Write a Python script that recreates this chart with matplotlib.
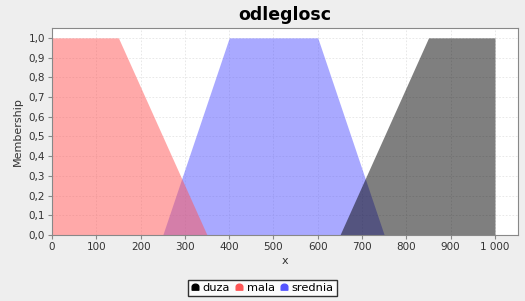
import numpy as np
import matplotlib
matplotlib.use("Agg")
import matplotlib.pyplot as plt
from matplotlib.path import Path
from matplotlib.ticker import FuncFormatter, MultipleLocator

# zbiory rozmyte (trapezy): punkty x i stopnie przynaleznosci
names = ["duza", "mala", "srednia"]
xs = {
    "mala": [0, 0, 150, 350],
    "srednia": [250, 400, 600, 750],
    "duza": [650, 850, 1000, 1000],
}
mu = {
    "mala": [1, 1, 1, 0],
    "srednia": [0, 1, 1, 0],
    "duza": [0, 1, 1, 1],
}
colors = {"duza": "#000000", "mala": "#FF5555", "srednia": "#5555FF"}

plt.rcParams["font.family"] = "DejaVu Sans"
fig = plt.figure(figsize=(5.25, 3.01), dpi=100, facecolor="#EEEEEE")
ax = fig.add_axes([52 / 525, 1 - 235 / 301, 466 / 525, 207 / 301])
ax.set_facecolor("white")

# rysowanie w odwrotnej kolejnosci serii (jak JFreeChart)
for n in names[::-1]:
    ax.fill_between(xs[n], mu[n], 0, color=colors[n], alpha=0.5, lw=0)

ax.set_xlim(0, 1052)
ax.set_ylim(0, 1.05)
ax.xaxis.set_major_locator(MultipleLocator(100))
ax.yaxis.set_major_locator(MultipleLocator(0.1))
ax.xaxis.set_major_formatter(FuncFormatter(lambda v, p: f"{int(round(v)):,}".replace(",", " ")))
ax.yaxis.set_major_formatter(FuncFormatter(lambda v, p: f"{v:.1f}".replace(".", ",")))
ax.grid(True, color="#E4E4E4", lw=0.6, ls=(0, (2, 2)))
ax.set_axisbelow(True)
for s in ax.spines.values():
    s.set_color("#888888")
    s.set_linewidth(0.8)
ax.tick_params(colors="#888888", labelcolor="#333333", labelsize=7.5, length=3, width=0.8, pad=2)
ax.set_xlabel("x", fontsize=8, color="#333333", labelpad=3)
ax.set_ylabel("Membership", fontsize=8, color="#333333", labelpad=4)
ax.set_title("odleglosc", fontsize=12.5, fontweight="bold", pad=6)

# znacznik w ksztalcie kopulki jak w legendzie JFreeChart
t = np.linspace(0, np.pi, 20)
verts = [(-1, -0.8), (-1, 0.2)] + [(-np.cos(a), 0.2 + 0.8 * np.sin(a)) for a in t] + [(1, -0.8), (-1, -0.8)]
dome = Path(verts, closed=True)

handles = [plt.Line2D([], [], ls="", marker=dome, markersize=4.8, color=colors[n]) for n in names]
leg = fig.legend(handles, names, loc="center", bbox_to_anchor=(0.5, 1 - 288 / 301), ncol=3,
                 fontsize=8.2, frameon=True, fancybox=False, edgecolor="black",
                 handletextpad=0.35, columnspacing=0.5, handlelength=0.6, borderpad=0.3)
leg.get_frame().set_linewidth(1.0)

fig.savefig("out.png", dpi=100, facecolor=fig.get_facecolor())
